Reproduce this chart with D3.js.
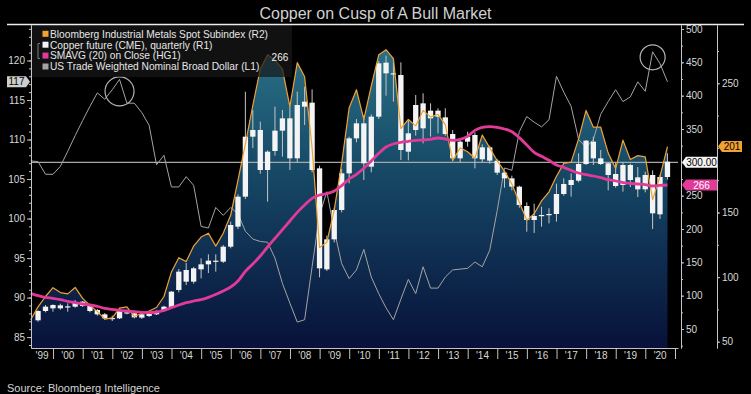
<!DOCTYPE html>
<html>
<head>
<meta charset="utf-8">
<script src="https://cdn.jsdelivr.net/npm/d3@7"></script>
<style>
body { margin: 0; background: #000; }
svg { display: block; font-family: "Liberation Sans", Arial, sans-serif; }
</style>
</head>
<body>
<script>
var W = 751, H = 394

// quarterly, Q1 1999 .. Q3 2020 (plotted at quarter end)
var startYear = 1999

// US Trade Weighted Nominal Broad Dollar (L1)
var dollar = [107.3, 107.2, 105.6, 105.6, 106.6, 108.5, 110.5, 112.4, 114.2, 115.9,
	115.1, 116.3, 117.6, 114.6, 114.6, 113.4, 111.8, 106.8, 108.0, 104.0,
	104.0, 105.3, 104.2, 99.0, 98.8, 101.4, 100.4, 101.4, 100.6, 98.4,
	97.4, 97.1, 97.0, 95.0, 91.8, 89.3, 86.9, 87.2, 93.9, 100.5,
	103.4, 98.5, 94.3, 92.4, 93.5, 96.1, 92.6, 90.5, 88.7, 87.2,
	89.8, 92.3, 90.5, 93.9, 91.2, 91.2, 92.6, 93.5, 93.6, 93.7,
	94.5, 93.9, 96.0, 101.0, 106.4, 106.1, 111.0, 112.9, 112.2, 111.6,
	112.5, 118.0, 116.0, 114.2, 110.0, 109.0, 110.0, 113.2, 114.8, 116.3,
	114.8, 115.4, 117.3, 116.1, 121.1, 119.6, 117.3]

// Bloomberg Industrial Metals Spot Subindex (R2)
var metals = [67, 77, 85, 91.8, 88, 87, 92, 83.5, 78, 73.5,
	67.5, 68.5, 76, 77, 69.5, 72, 73.8, 76.5, 85, 104,
	115, 112, 124, 131, 134, 124, 134, 148, 175, 203,
	233, 261, 272, 268, 261, 232, 266, 255, 200, 123,
	127, 152, 188, 231, 245, 222, 248, 272, 276, 269,
	215, 222, 217, 229, 224, 226, 218, 190, 200, 197,
	192, 210, 200, 190, 182, 172, 158, 144, 149, 159,
	166, 178, 188, 189, 207, 229, 216, 216, 196, 184,
	206, 191, 194, 193, 160, 178, 201]

// SMAVG (20) on close, HG1 (R1)
var smavg = [103.5, 100, 97.5, 96, 94, 91.5, 89.5, 87.5, 86, 84,
	81, 79.5, 78, 77, 76, 75, 74.5, 75.5, 78, 82,
	86, 89.5, 92, 94, 97.5, 102, 107, 113, 122, 136.5,
	147.5, 159.5, 173, 186, 199, 212, 225, 236, 246, 251,
	253, 257, 265, 275, 282, 291, 302, 313.5, 323, 327.5,
	330, 331.5, 333, 333.5, 334.5, 336.5, 335, 333, 334.5, 339,
	348, 352.5, 353.5, 352.5, 350, 346, 337, 326, 315, 309,
	303, 296, 292.5, 288, 284, 281.5, 279.5, 277, 274, 272,
	269.5, 268.5, 267.5, 266.5, 264.5, 265.5, 266]

// Copper future (CME), quarterly candles, Q2 1999 .. Q3 2020 (R1)
var cOpen = [63, 77, 81, 85.5, 83, 83.5, 91, 84.5, 78.5, 72, 66, 66, 75, 73.5, 67, 69.5, 72, 77, 82, 108.5,
	138.5, 121, 139.5, 147, 152, 151, 173.5, 203.5, 248.5, 338.5, 348.5, 288.5, 317, 347.5, 366, 306, 383.5, 389.5, 291, 139.5,
	184.5, 228.5, 283.5, 336, 358.5, 293.5, 368.5, 449.5, 433.5, 431, 316, 348.5, 388.5, 366, 377.5, 367.5, 342.5, 306, 331, 341,
	304.5, 322.5, 302.5, 284.5, 276, 263.5, 234.5, 213.5, 219.5, 221, 222.5, 252.5, 266, 272.5, 297.5, 331, 306, 298.5, 282.5, 266,
	296, 277.5, 259.5, 281, 222, 278]
var cHigh = [78, 86, 87, 88, 88.5, 93.5, 92, 86, 80, 74, 70, 78, 77, 75, 73, 75, 78, 85, 107, 140,
	149, 143, 156, 162, 162, 176, 211, 252, 406, 378.5, 361, 318, 383.5, 378.5, 383.5, 406, 413.5, 409.5, 295, 190,
	232, 290, 338.5, 365, 371, 372, 452, 460, 456, 450, 363, 401, 403.5, 388.5, 381, 381, 348.5, 335, 346, 345,
	327, 325, 305, 287, 280, 265, 240, 238, 233.5, 231, 268, 276, 283.5, 313.5, 333.5, 338.5, 318.5, 300, 300, 300,
	298, 293, 286, 288, 281, 313.5]
var cLow = [61, 75, 76, 79, 76, 82, 83, 75, 70, 64, 62, 65, 72, 66, 65, 68, 71, 76, 80, 105,
	116, 118, 126, 134, 136, 149, 171, 200, 245, 321.5, 283, 241, 310, 308.5, 288.5, 300, 356, 285, 127.5, 137,
	180, 225, 268.5, 330, 273.5, 285, 365, 400, 391, 303.5, 303, 340, 328.5, 338.5, 343.5, 340, 303, 300, 323.5, 291,
	300, 298, 281, 262, 258, 232, 196, 194, 203.5, 208.5, 211, 250, 248.5, 270, 296, 296, 296, 258, 262, 256,
	263, 248, 255, 200, 215, 274]
var cClose = [77, 83.5, 86, 81, 84, 89.5, 84.5, 77, 72, 66, 66.5, 77, 74.5, 67.5, 72, 73.5, 77, 83.5, 106, 136,
	121, 141, 147, 152.5, 152.5, 173.5, 206, 248.5, 338.5, 348.5, 288.5, 316, 347.5, 366, 306, 386, 391, 288.5, 141, 184.5,
	228.5, 283.5, 336, 358.5, 298.5, 368.5, 448.5, 433.5, 432, 318.5, 343.5, 386, 351, 377.5, 368.5, 342.5, 306, 331, 338.5, 306,
	322.5, 302.5, 284.5, 276, 263.5, 236, 213.5, 219.5, 221, 222.5, 252.5, 267.5, 273.5, 297.5, 332.5, 306, 297.5, 281, 264.5, 296,
	273.5, 259.5, 281, 223.5, 278, 301]

var yearLabels = ["'99", "'00", "'01", "'02", "'03", "'04", "'05", "'06", "'07", "'08", "'09",
	"'10", "'11", "'12", "'13", "'14", "'15", "'16", "'17", "'18", "'19", "'20"]
var leftTicks = [85, 90, 95, 100, 105, 110, 115, 120]
var r1Ticks = [50, 100, 150, 200, 250, 350, 400, 450, 500]   // 300 sits under the reference tag
var r2Ticks = [50, 100, 150, 250]                            // 200 sits under the last-value tag
var refLevel = 300
var peakNote = "266"
// circled dollar peaks: [quarter index, L1 value of centre, radius px]
var rings = [[12, 116.1, 14.5], [84, 120.4, 12.5]]

var colMetals = "#f0a232", colMa = "#e23a98", colDollar = "#a4a4a4", colAxis = "#c4c4c4", colText = "#d8d8d8"

function qDate(k) { return new Date(startYear, 3 + 3 * k, 0) }

var x = d3.scaleTime().domain([new Date(1999, 3, 4), new Date(2021, 1, 7)]).range([31, 678])
var yL = d3.scaleLinear().domain([83.62, 124.49]).range([348, 25])
var yR1 = d3.scaleLinear().domain([21.5, 506]).range([348, 25])
var yR2 = d3.scaleLinear().domain([45.14, 295.1]).range([348, 25])

var svg = d3.select("body")
	.append("svg")
	.attr("width", W)
	.attr("height", H)

svg.append("rect").attr("width", W).attr("height", H).attr("fill", "#000")

var defs = svg.append("defs")
var grad = defs.append("linearGradient")
	.attr("id", "fillGrad")
	.attr("gradientUnits", "userSpaceOnUse")
	.attr("x1", 0).attr("y1", 25).attr("x2", 0).attr("y2", 348)
grad.append("stop").attr("offset", 0).attr("stop-color", "#2e788d")
grad.append("stop").attr("offset", 0.45).attr("stop-color", "#164966")
grad.append("stop").attr("offset", 1).attr("stop-color", "#08113a")

// area under the metals index
svg.append("path")
	.datum(metals)
	.attr("fill", "url(#fillGrad)")
	.attr("d", d3.area()
		.x(function(d, i) { return x(qDate(i)) })
		.y0(348)
		.y1(function(d) { return yR2(d) }))

// 300 reference line
svg.append("line")
	.attr("x1", 31).attr("x2", 678)
	.attr("y1", yR1(refLevel)).attr("y2", yR1(refLevel))
	.attr("stroke", "#a8a8a8")
	.attr("stroke-width", 1.4)

svg.append("path")
	.datum(dollar)
	.attr("fill", "none")
	.attr("stroke", colDollar)
	.attr("stroke-width", 1)
	.attr("d", d3.line()
		.x(function(d, i) { return x(qDate(i)) })
		.y(function(d) { return yL(d) }))

// candles
var bw = (x(qDate(1)) - x(qDate(0))) * 0.72
var candles = svg.append("g").selectAll("g")
	.data(cOpen)
	.enter()
	.append("g")
	.attr("transform", function(d, i) { return "translate(" + x(qDate(i + 1)) + ",0)" })

candles.append("line")
	.attr("y1", function(d, i) { return yR1(cHigh[i]) })
	.attr("y2", function(d, i) { return yR1(cLow[i]) })
	.attr("stroke", "#c6c6c6")
	.attr("stroke-width", 1)

candles.append("rect")
	.attr("x", -bw / 2)
	.attr("width", bw)
	.attr("y", function(d, i) { return yR1(Math.max(cOpen[i], cClose[i])) })
	.attr("height", function(d, i) { return Math.max(1.2, Math.abs(yR1(cOpen[i]) - yR1(cClose[i]))) })
	.attr("fill", "#f4f4f4")

svg.append("path")
	.datum(metals)
	.attr("fill", "none")
	.attr("stroke", colMetals)
	.attr("stroke-width", 1.2)
	.attr("stroke-linejoin", "round")
	.attr("d", d3.line()
		.x(function(d, i) { return x(qDate(i)) })
		.y(function(d) { return yR2(d) }))

svg.append("path")
	.datum(smavg)
	.attr("fill", "none")
	.attr("stroke", colMa)
	.attr("stroke-width", 2.8)
	.attr("d", d3.line()
		.curve(d3.curveMonotoneX)
		.x(function(d, i) { return x(qDate(i)) })
		.y(function(d) { return yR1(d) }))

svg.selectAll(".ring")
	.data(rings)
	.enter()
	.append("circle")
	.attr("class", "ring")
	.attr("cx", function(r) { return x(qDate(r[0])) })
	.attr("cy", function(r) { return yL(r[1]) })
	.attr("r", function(r) { return r[2] })
	.attr("fill", "none")
	.attr("stroke", "#b4b4b4")
	.attr("stroke-width", 1.2)

// legend
var legend = [["Bloomberg Industrial Metals Spot Subindex (R2)", colMetals],
	["Copper future (CME), quarterly (R1)", "#f4f4f4"],
	["SMAVG (20)  on Close (HG1)", colMa],
	["US Trade Weighted Nominal Broad Dollar (L1)", colDollar]]

svg.append("rect")
	.attr("x", 30).attr("y", 25).attr("width", 262).attr("height", 52)
	.attr("fill", "#181818").attr("opacity", 0.72)

var leg = svg.append("g").selectAll("g")
	.data(legend)
	.enter()
	.append("g")
	.attr("transform", function(d, i) { return "translate(0," + (34 + i * 10.9) + ")" })
leg.append("rect")
	.attr("x", 42.5).attr("y", -3.2).attr("width", 6).attr("height", 6)
	.attr("fill", function(d) { return d[1] })
leg.append("text")
	.attr("x", 50).attr("y", 3.6)
	.attr("font-size", 10.2)
	.attr("fill", "#e6e6e6")
	.text(function(d) { return d[0] })

svg.append("path")
	.attr("d", "M40,43.5H38V58.5H40")
	.attr("fill", "none")
	.attr("stroke", "#8a8a8a")
	.attr("stroke-width", 0.9)

// label at the 2006 peak, above the legend panel
var peakIdx = metals.indexOf(d3.max(metals.slice(0, 40)))
svg.append("text")
	.attr("x", x(qDate(peakIdx)) + 4)
	.attr("y", yR2(metals[peakIdx]) + 6.5)
	.attr("fill", "#f0f0f0")
	.attr("font-size", 10)
	.text(peakNote)

// axes
function styleAxis(g) {
	g.select(".domain").attr("stroke", colAxis)
	g.selectAll(".tick line").attr("stroke", colAxis)
	g.selectAll(".tick text").attr("fill", colText).attr("font-size", 10)
		.attr("font-family", "Liberation Sans, Arial, sans-serif")
}

svg.append("g")
	.attr("transform", "translate(31,0)")
	.call(d3.axisLeft(yL).tickValues(d3.range(84, 125)).tickSize(2).tickFormat("").tickSizeOuter(0))
	.call(styleAxis)
svg.append("g")
	.attr("transform", "translate(31,0)")
	.call(d3.axisLeft(yL).tickValues(leftTicks).tickSize(4).tickPadding(2).tickSizeOuter(0))
	.call(styleAxis)

svg.append("g")
	.attr("transform", "translate(681,0)")
	.call(d3.axisRight(yR1).tickValues(d3.range(25, 506, 25)).tickSize(2).tickFormat("").tickSizeOuter(0))
	.call(styleAxis)
svg.append("g")
	.attr("transform", "translate(681,0)")
	.call(d3.axisRight(yR1).tickValues(r1Ticks).tickSize(3).tickPadding(2).tickSizeOuter(0))
	.call(styleAxis)

svg.append("g")
	.attr("transform", "translate(717,0)")
	.call(d3.axisRight(yR2).tickValues(d3.range(50, 295, 25)).tickSize(2).tickFormat("").tickSizeOuter(0))
	.call(styleAxis)
svg.append("g")
	.attr("transform", "translate(717,0)")
	.call(d3.axisRight(yR2).tickValues(r2Ticks).tickSize(3).tickPadding(2).tickSizeOuter(0))
	.call(styleAxis)

var yearStarts = yearLabels.map(function(l, i) { return new Date(startYear + i + 1, 0, 1) })
svg.append("g")
	.attr("transform", "translate(0,348)")
	.call(d3.axisBottom(x).tickValues(yearStarts).tickSize(11).tickFormat("").tickSizeOuter(0))
	.call(styleAxis)

svg.append("g").selectAll("text")
	.data(yearLabels)
	.enter()
	.append("text")
	.attr("x", function(l, i) {
		var a = Math.max(31, x(new Date(startYear + i, 0, 1)))
		var b = Math.min(678, x(new Date(startYear + i + 1, 0, 1)))
		return (a + b) / 2
	})
	.attr("y", 358.5)
	.attr("text-anchor", "middle")
	.attr("font-size", 10)
	.attr("fill", colText)
	.text(function(l) { return l })

// last-value tags
function tag(xTip, yc, w, dir, fill, tcol, label) {
	var h = 11, n = 4
	var pts = [[xTip, yc], [xTip + dir * n, yc - h / 2], [xTip + dir * w, yc - h / 2], [xTip + dir * w, yc + h / 2], [xTip + dir * n, yc + h / 2]]
	svg.append("path")
		.attr("d", "M" + pts.join("L") + "Z")
		.attr("fill", fill)
	svg.append("text")
		.attr("x", xTip + dir * (w + n) / 2)
		.attr("y", yc + 3.6)
		.attr("text-anchor", "middle")
		.attr("font-size", 10)
		.attr("fill", tcol)
		.text(label)
}

tag(682, yR1(refLevel), 35, 1, "#f4f4f4", "#000", d3.format(".2f")(refLevel))
tag(682, yR1(smavg[smavg.length - 1]), 35, 1, colMa, "#fff", Math.round(smavg[smavg.length - 1]))
tag(718, yR2(metals[metals.length - 1]), 24, 1, colMetals, "#000", Math.round(metals[metals.length - 1]))
tag(30, yL(dollar[dollar.length - 1]), 23, -1, "#cdcdcd", "#000", Math.round(dollar[dollar.length - 1]))

// title + source
svg.append("text")
	.attr("x", 375.5).attr("y", 18.5)
	.attr("text-anchor", "middle")
	.attr("font-size", 16)
	.attr("fill", "#d0d0d0")
	.text("Copper on Cusp of A Bull Market")
svg.append("line")
	.attr("x1", 7).attr("x2", 744)
	.attr("y1", 24.5).attr("y2", 24.5)
	.attr("stroke", "#ececec")
	.attr("stroke-width", 1.3)

svg.append("text")
	.attr("x", 7).attr("y", 392)
	.attr("font-size", 11)
	.attr("fill", "#d4d4d4")
	.text("Source: Bloomberg Intelligence")
</script>
</body>
</html>
